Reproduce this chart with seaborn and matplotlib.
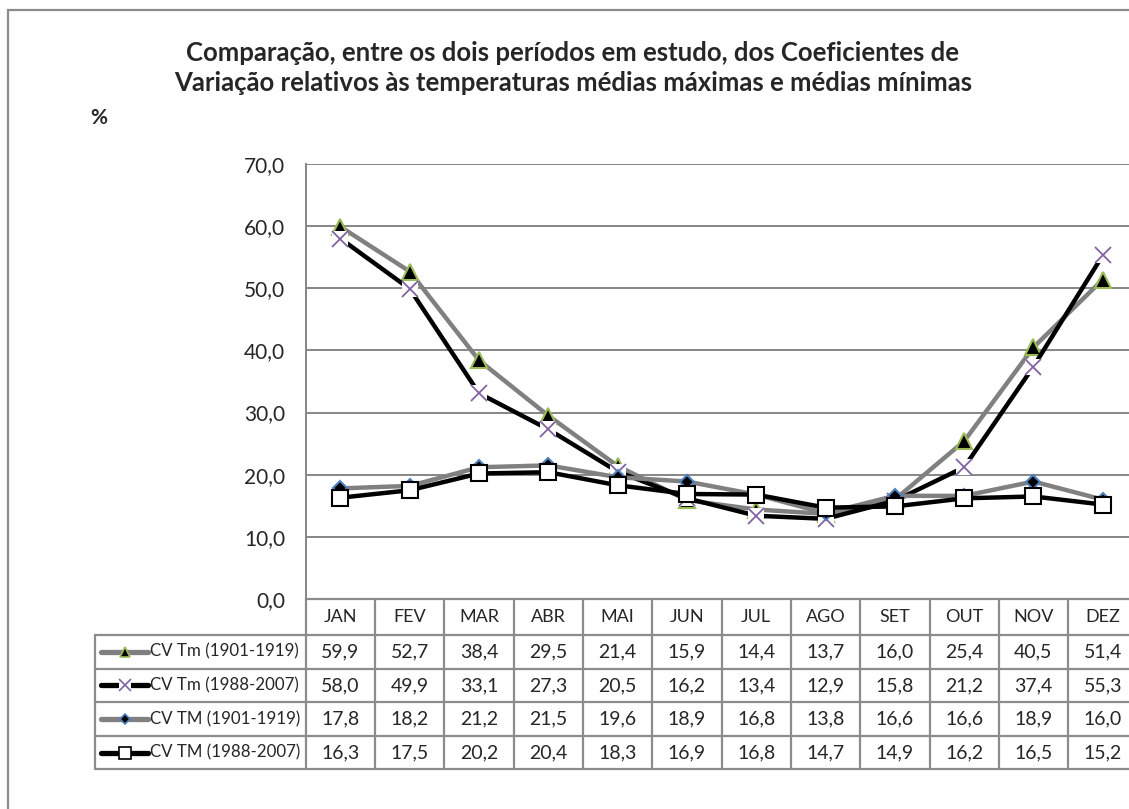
import numpy as np
import pandas as pd
import matplotlib
matplotlib.use('Agg')
import matplotlib.pyplot as plt
import matplotlib.transforms as mtransforms
from matplotlib.patches import Rectangle
from matplotlib.lines import Line2D
import seaborn as sns

months = ['JAN', 'FEV', 'MAR', 'ABR', 'MAI', 'JUN', 'JUL', 'AGO', 'SET', 'OUT', 'NOV', 'DEZ']
series_names = ['CV Tm (1901-1919)', 'CV Tm (1988-2007)', 'CV TM (1901-1919)', 'CV TM (1988-2007)']
tm_1901 = [59.9, 52.7, 38.4, 29.5, 21.4, 15.9, 14.4, 13.7, 16.0, 25.4, 40.5, 51.4]
tm_1988 = [58.0, 49.9, 33.1, 27.3, 20.5, 16.2, 13.4, 12.9, 15.8, 21.2, 37.4, 55.3]
tmax_1901 = [17.8, 18.2, 21.2, 21.5, 19.6, 18.9, 16.8, 13.8, 16.6, 16.6, 18.9, 16.0]
tmax_1988 = [16.3, 17.5, 20.2, 20.4, 18.3, 16.9, 16.8, 14.7, 14.9, 16.2, 16.5, 15.2]
y_ticks = [0, 10, 20, 30, 40, 50, 60, 70]

title = ('Comparação, entre os dois períodos em estudo, dos Coeficientes de\n'
         'Variação relativos às temperaturas médias máximas e médias mínimas')

sns.set_style('white')
plt.rcParams['font.family'] = ['Lato', 'DejaVu Sans']

def fmt(v):
    return f'{v:.1f}'.replace('.', ',')

# style of each series: line colour, marker, marker face, marker edge, size, legend size
styles = [
    ('#808080', '^', '#000000', '#9BBB59', 11, 7),
    ('#000000', 'x', '#8064A2', '#8064A2', 11, 8),
    ('#808080', 'D', '#000000', '#4F81BD', 7, 5.5),
    ('#000000', 's', '#FFFFFF', '#000000', 11, 8),
]
all_values = [tm_1901, tm_1988, tmax_1901, tmax_1988]

W, H = 1129, 809
fig = plt.figure(figsize=(W / 100, H / 100), dpi=100)
ax_left, ax_right, ax_top, ax_bottom = 305.8, 1137.4, 164, 599
ax = fig.add_axes([ax_left / W, 1 - ax_bottom / H, (ax_right - ax_left) / W, (ax_bottom - ax_top) / H])

x = np.arange(len(months))
for vals, (lc, mk, mfc, mec, ms, _) in zip(all_values, styles):
    df = pd.DataFrame({'pos': x, 'val': vals})
    if mk == 'x':
        sns.lineplot(data=df, x='pos', y='val', ax=ax, color=lc, linewidth=3.2,
                     marker='s', markersize=ms * 1.1, markerfacecolor='white',
                     markeredgecolor='white', markeredgewidth=0)
        ax.plot(df['pos'], df['val'], linestyle='none', marker='x', markersize=ms,
                markeredgecolor=mec, markeredgewidth=1.3)
    else:
        sns.lineplot(data=df, x='pos', y='val', ax=ax, color=lc, linewidth=3.2,
                     marker=mk, markersize=ms, markerfacecolor=mfc,
                     markeredgecolor=mec, markeredgewidth=1.5)

ax.set_xlim(-0.5, 11.5)
ax.set_ylim(0, 70)
ax.set_yticks(y_ticks)
ax.set_yticklabels([fmt(v) for v in y_ticks], fontsize=15)
ax.set_xticks([])
ax.set_xlabel('')
ax.set_ylabel('')
ax.tick_params(axis='y', length=0, pad=15)
ax.grid(axis='y', color='#868686', linewidth=1.4)
ax.set_axisbelow(True)
for side in ['top', 'right', 'bottom']:
    ax.spines[side].set_visible(False)
ax.spines['left'].set_color('#868686')
ax.spines['left'].set_linewidth(1.4)

# data table under the axis
gc = '#8c8c8c'
ph = ax_bottom - ax_top
pw = ax_right - ax_left
head_h = 36 / ph
row_h = 33.6 / ph
leg_left = (95 - ax_left) / pw
bottom = -head_h - 4 * row_h
blend = mtransforms.blended_transform_factory(ax.transData, ax.transAxes)

ax.add_line(Line2D([0, 1], [0, 0], transform=ax.transAxes, color=gc, lw=1.6, clip_on=False))
for r in range(5):
    yy = -head_h - r * row_h
    ax.add_line(Line2D([leg_left, 1], [yy, yy], transform=ax.transAxes, color=gc, lw=1.6, clip_on=False))
for i in range(len(months) + 1):
    xx = i - 0.5
    ax.add_line(Line2D([xx, xx], [0, bottom], transform=blend, color=gc, lw=1.6, clip_on=False))
ax.add_line(Line2D([leg_left, leg_left], [-head_h, bottom], transform=ax.transAxes, color=gc, lw=1.6,
                   clip_on=False))

for i, m in enumerate(months):
    ax.text(i, -head_h / 2, m, transform=blend, ha='center', va='center', fontsize=13, clip_on=False)
for r, vals in enumerate(all_values):
    yc = -head_h - (r + 0.5) * row_h
    for i, v in enumerate(vals):
        ax.text(i, yc, fmt(v), transform=blend, ha='center', va='center', fontsize=14, clip_on=False)

# legend keys inside the table
lx0, lx1 = (101 - ax_left) / pw, (148 - ax_left) / pw
lxm = (lx0 + lx1) / 2
ltx = (150 - ax_left) / pw
for r, (name, (lc, mk, mfc, mec, ms, lms)) in enumerate(zip(series_names, styles)):
    yc = -head_h - (r + 0.5) * row_h
    ax.add_line(Line2D([lx0, lx1], [yc, yc], transform=ax.transAxes, color=lc, lw=3.8,
                       solid_capstyle='round', clip_on=False))
    if mk == 'x':
        ax.add_line(Line2D([lxm], [yc], transform=ax.transAxes, marker='s', markersize=lms,
                           markerfacecolor='white', markeredgewidth=0, clip_on=False))
    ax.add_line(Line2D([lxm], [yc], transform=ax.transAxes, marker=mk, markersize=lms,
                       markerfacecolor=mfc, markeredgecolor=mec, markeredgewidth=1.2, clip_on=False))
    ax.text(ltx, yc, name, transform=ax.transAxes, ha='left', va='center', fontsize=12.2, clip_on=False)

fig.text(573 / W, 1 - 68 / H, title, ha='center', va='center', fontsize=18.5, fontweight='bold',
         linespacing=1.3)
fig.text(90 / W, 1 - 118 / H, '%', ha='left', va='center', fontsize=15, fontweight='bold')

fig.patches.append(Rectangle((8 / W, -0.1), 1.2, 1 - 10 / H + 0.1, transform=fig.transFigure,
                             fill=False, edgecolor='#8c8c8c', linewidth=1.6))

fig.savefig('out.png', dpi=100)
